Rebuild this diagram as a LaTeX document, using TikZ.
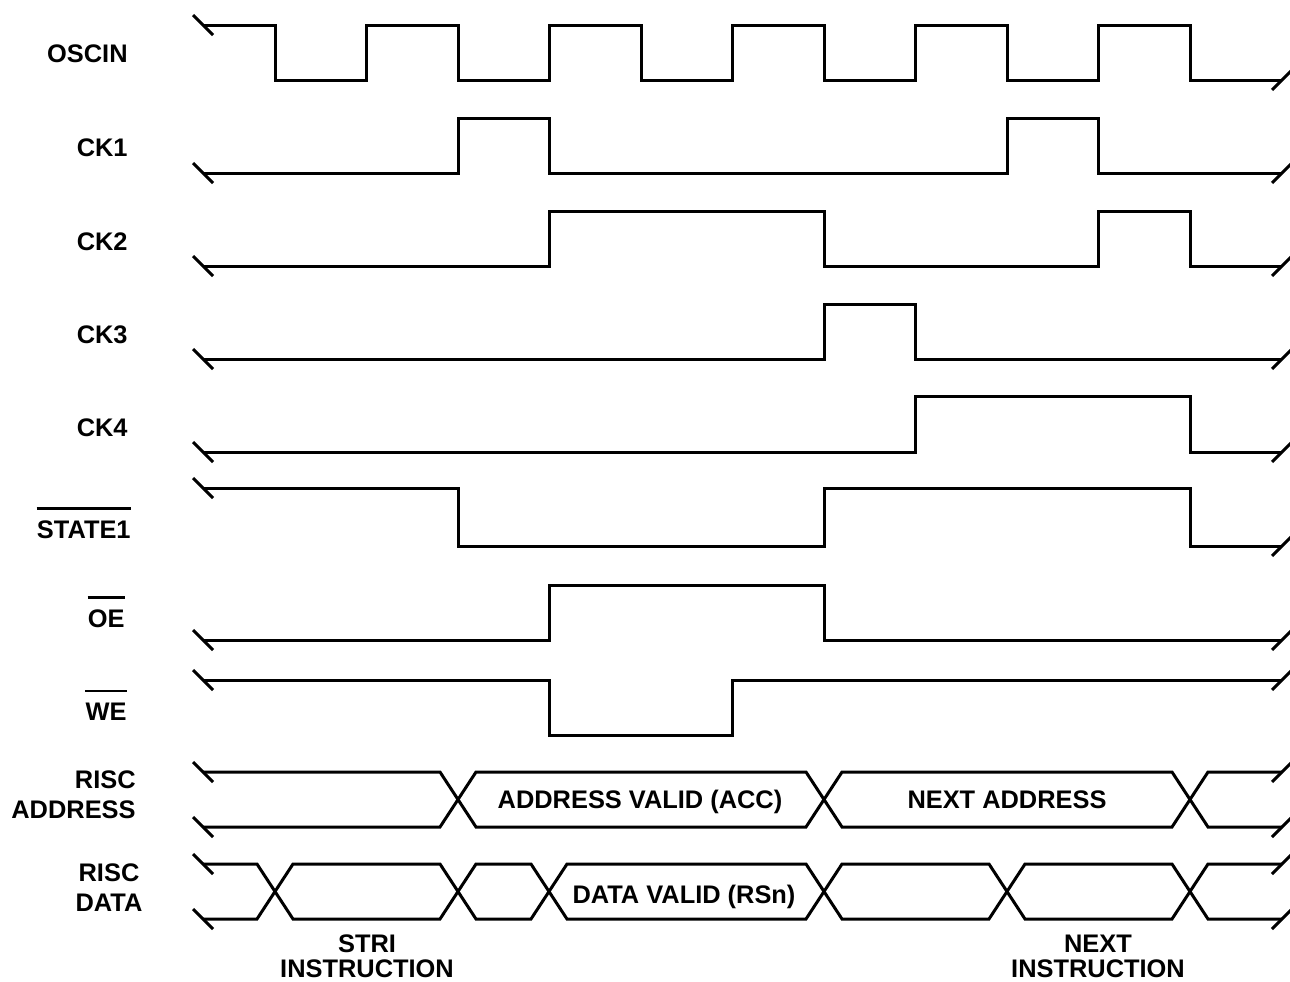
\documentclass[tikz,border=0pt]{standalone}
\usepackage{fontspec}
\setmainfont{Liberation Sans}
\usetikzlibrary{positioning}
\tikzset{
  wave/.style  ={line width=1.5pt, draw=black},
  nbar/.style  ={line width=1.4pt, draw=black},
  sig/.style   ={font=\fontsize{12.7}{15}\selectfont\bfseries, inner sep=0pt},
  note/.style  ={font=\fontsize{12.7}{12.5}\selectfont\bfseries, align=center, inner sep=0pt},
}
\newcommand{\brkin}[1]{\draw[wave] (#1) ++(-10,-10) -- ++(20,20);}
\newcommand{\brkout}[1]{\draw[wave] (#1) ++(-10,10) -- ++(20,-20);}

\begin{document}
\begin{tikzpicture}[x=0.5pt, y=-0.5pt]
  \useasboundingbox (0,0) rectangle (1290,981);

  \node[sig, anchor=base east] (oscin) at (128,62)  {OSCIN};
  \node[sig, anchor=base east] (ck1)   at (128,156) {CK1};
  \node[sig, anchor=base east] (ck2)   at (128,250) {CK2};
  \node[sig, anchor=base east] (ck3)   at (128,343) {CK3};
  \node[sig, anchor=base east] (ck4)   at (128,436) {CK4};
  \node[sig, anchor=base east] (st1)   at (131,538) {STATE1};
  \node[sig, anchor=base east] (oe)    at (125,627) {OE};
  \node[sig, anchor=base east] (we)    at (127,720) {WE};
  \node[sig, align=right, anchor=east] (raddr) at (136,795) {RISC\\ADDRESS};
  \node[sig, align=center] (rdata) at (109,888) {RISC\\DATA};
  \foreach \n in {st1,oe,we}
    \draw[nbar] ([yshift=5.6pt]\n.north west) -- ([yshift=5.6pt]\n.north east);

  \draw[wave] (203,25) \foreach \k in {0,...,4} {
      -- ({275+183*\k},25) -- ({275+183*\k},80) -- ({366.5+183*\k},80) -- ({366.5+183*\k},25) }
      -- (1190,25) -- (1190,80) -- (1282,80);
  \draw[wave] (203,173) -- (458,173) -- (458,118) -- (549,118) -- (549,173) -- (1007,173)
      -- (1007,118) -- (1098,118) -- (1098,173) -- (1282,173);
  \draw[wave] (203,266) -- (549,266) -- (549,211) -- (824,211) -- (824,266) -- (1098,266)
      -- (1098,211) -- (1190,211) -- (1190,266) -- (1282,266);
  \draw[wave] (203,359) -- (824,359) -- (824,304) -- (915,304) -- (915,359) -- (1282,359);
  \draw[wave] (203,452) -- (915,452) -- (915,396) -- (1190,396) -- (1190,452) -- (1282,452);
  \draw[wave] (203,488) -- (458,488) -- (458,546) -- (824,546) -- (824,488) -- (1190,488)
      -- (1190,546) -- (1282,546);
  \draw[wave] (203,640) -- (549,640) -- (549,585) -- (824,585) -- (824,640) -- (1282,640);
  \draw[wave] (203,680) -- (549,680) -- (549,735) -- (732,735) -- (732,680) -- (1282,680);

  \draw[wave] (203,772) -- (440,772) -- (476,827) -- (806,827) -- (842,772) -- (1172,772)
      -- (1208,827) -- (1282,827);
  \draw[wave] (203,827) -- (440,827) -- (476,772) -- (806,772) -- (842,827) -- (1172,827)
      -- (1208,772) -- (1282,772);
  \draw[wave] (203,864) -- (257,864) -- (293,919) -- (440,919) -- (476,864) -- (531,864)
      -- (567,919) -- (806,919) -- (842,864) -- (989,864) -- (1025,919) -- (1172,919)
      -- (1208,864) -- (1282,864);
  \draw[wave] (203,919) -- (257,919) -- (293,864) -- (440,864) -- (476,919) -- (531,919)
      -- (567,864) -- (806,864) -- (842,919) -- (989,919) -- (1025,864) -- (1172,864)
      -- (1208,919) -- (1282,919);

  \foreach \y in {25,173,266,359,452,488,640,680,772,827,864,919} {\brkin{203,\y}}
  \foreach \y in {80,173,266,359,452,546,640,680,772,827,864,919} {\brkout{1282,\y}}

  \node[sig, anchor=base] (acc) at (640,808)  {ADDRESS VALID (ACC)};
  \node[sig, anchor=base] (nxa) at (1007,808) {NEXT ADDRESS};
  \node[sig, anchor=base] (rsn) at (684,903)  {DATA VALID (RSn)};
  \node[note] (stri) at (367,956)  {STRI\\INSTRUCTION};
  \node[note] (nxi)  at (1098,956) {NEXT\\INSTRUCTION};
\end{tikzpicture}
\end{document}
